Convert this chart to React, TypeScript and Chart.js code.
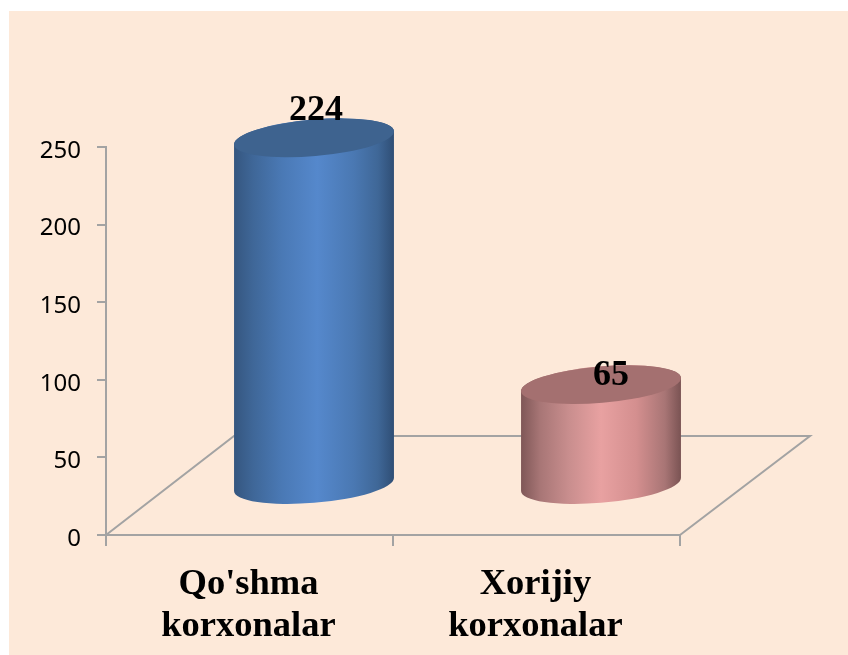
import React, { useEffect, useRef } from "react";
import { Chart, registerables } from "chart.js";

Chart.register(...registerables);

const categories: string[][] = [["Qo'shma", "korxonalar"], ["Xorijiy", "korxonalar"]];
const seriesValues: number[] = [224, 65];
const valueLabels: string[] = ["224", "65"];

const AXIS = "#a3a3a3";
const PEACH = "#fde9d9";
const DEPTH_X = 129;
const DEPTH_Y = 99;

const looks = [
  {
    top: "#3e638f",
    stops: [
      [0, "#35567f"], [0.12, "#3f6798"], [0.3, "#4a79b5"], [0.52, "#5588cc"], [0.75, "#4a78b2"], [0.9, "#3f6797"], [1, "#2f4e75"],
    ],
    label: [2, -18],
  },
  {
    top: "#a47070",
    stops: [
      [0, "#7f5757"], [0.12, "#a87676"], [0.3, "#c98e8e"], [0.5, "#e8a1a1"], [0.72, "#d48f8f"], [0.9, "#a87575"], [1, "#7a5353"],
    ],
    label: [10, 0],
  },
];

const cylinderPlugin = {
  id: "cylinders",
  beforeDraw(chart: any) {
    const { ctx, width, height } = chart;
    ctx.save();
    ctx.fillStyle = "#ffffff";
    ctx.fillRect(0, 0, width, height);
    ctx.fillStyle = PEACH;
    ctx.fillRect(9, 11, width - 9, height - 11);
    ctx.restore();
  },
  beforeDatasetsDraw(chart: any) {
    const { ctx, chartArea: a } = chart;
    ctx.save();
    ctx.strokeStyle = AXIS;
    ctx.lineWidth = 2;
    ctx.beginPath();
    ctx.moveTo(a.left, a.bottom);
    ctx.lineTo(a.left + DEPTH_X - 1, a.bottom - DEPTH_Y);
    ctx.lineTo(a.right + DEPTH_X + 1, a.bottom - DEPTH_Y);
    ctx.lineTo(a.right, a.bottom);
    ctx.stroke();
    ctx.restore();
  },
  beforeDatasetDraw(chart: any) {
    const { ctx } = chart;
    const meta = chart.getDatasetMeta(0);
    meta.data.forEach((bar: any, i: number) => {
      const look = looks[i];
      const cx = bar.x + DEPTH_X / 2;
      const half = bar.width / 2;
      const yTop = bar.y - DEPTH_Y / 2;
      const yBot = bar.base - DEPTH_Y / 2;
      const rot = (-4.9 * Math.PI) / 180;
      const ra = half + 0.3;
      const rb = 18.3;
      const t0 = 0.0195;
      const g = ctx.createLinearGradient(cx - half, 0, cx + half, 0);
      look.stops.forEach(([o, c]) => g.addColorStop(o as number, c as string));
      ctx.save();
      ctx.beginPath();
      ctx.ellipse(cx, yBot, ra, rb, rot, t0 + Math.PI, t0, true);
      ctx.ellipse(cx, yTop, ra, rb, rot, t0, t0 + Math.PI, true);
      ctx.closePath();
      ctx.fillStyle = g;
      ctx.fill();
      ctx.beginPath();
      ctx.ellipse(cx, yTop, ra, rb, rot, 0, Math.PI * 2);
      ctx.fillStyle = look.top;
      ctx.fill();
      ctx.restore();
    });
    return false;
  },
  afterDatasetsDraw(chart: any) {
    const { ctx } = chart;
    const meta = chart.getDatasetMeta(0);
    ctx.save();
    ctx.fillStyle = "#000000";
    ctx.font = 'bold 36px "Liberation Serif"';
    ctx.textAlign = "center";
    ctx.textBaseline = "alphabetic";
    meta.data.forEach((bar: any, i: number) => {
      const [dx, dy] = looks[i].label;
      ctx.fillText(valueLabels[i], bar.x + DEPTH_X / 2 + dx, bar.y - DEPTH_Y / 2 + dy);
    });
    ctx.restore();
  },
};

export default function App() {
  const ref = useRef<HTMLCanvasElement>(null);
  useEffect(() => {
    const chart = new Chart(ref.current as HTMLCanvasElement, {
      type: "bar",
      data: {
        labels: categories,
        datasets: [
          {
            data: seriesValues,
            backgroundColor: ["#5588cc", "#e8a1a1"],
            barPercentage: 0.557,
            categoryPercentage: 1,
          },
        ],
      },
      options: {
        responsive: false,
        animation: false,
        layout: { padding: { top: 147, right: 168, left: 0, bottom: 0 } },
        plugins: { legend: { display: false }, tooltip: { enabled: false }, title: { display: false } },
        scales: {
          x: {
            afterFit(s: any) { s.height = 120; },
            border: { color: AXIS, width: 2 },
            grid: { drawOnChartArea: false, color: AXIS, lineWidth: 2, tickLength: 11 },
            ticks: {
              color: "#000000",
              font: { family: '"Liberation Serif"', size: 36.5, weight: "bold", lineHeight: 42 / 36.5 },
              padding: 18,
              maxRotation: 0,
              minRotation: 0,
              autoSkip: false,
              labelOffset: -1,
            },
          },
          y: {
            min: 0,
            max: 250,
            afterFit(s: any) { s.width = 106; },
            border: { color: AXIS, width: 2 },
            grid: { drawOnChartArea: false, color: AXIS, lineWidth: 2, tickLength: 9 },
            ticks: {
              stepSize: 50,
              color: "#000000",
              font: { family: '"Noto Sans"', size: 24 },
              padding: 16,
              labelOffset: 4,
            },
          },
        },
      },
      plugins: [cylinderPlugin],
    } as any);
    return () => chart.destroy();
  }, []);
  return (
    <div style={{ position: "fixed", left: 0, top: 0, width: 848, height: 655 }}>
      <canvas ref={ref} width={848} height={655} style={{ display: "block", width: 848, height: 655 }} />
    </div>
  );
}
